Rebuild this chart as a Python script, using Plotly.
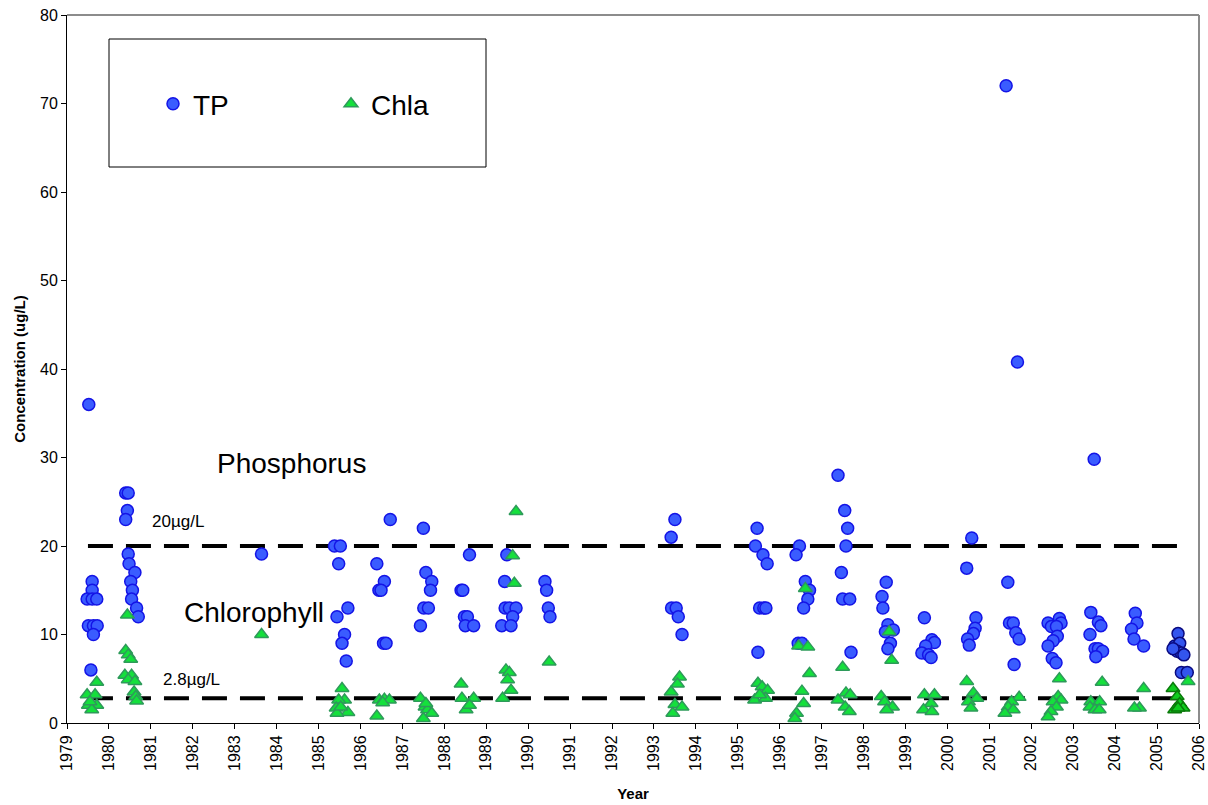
import plotly.graph_objects as go

# Total phosphorus samples (decimal year, ug/L)
tp_year = [1979.52, 1979.60, 1979.60, 1979.48, 1979.60, 1979.71, 1979.51, 1979.63, 1979.72, 1979.63, 1979.57,
           1980.40, 1980.46, 1980.44, 1980.40, 1980.46, 1980.48, 1980.62, 1980.52, 1980.56, 1980.54, 1980.66, 1980.70,
           1983.64,
           1985.38, 1985.52, 1985.48, 1985.70, 1985.44, 1985.62, 1985.56, 1985.66,
           1986.39, 1986.57, 1986.44, 1986.49, 1986.55, 1986.61, 1986.71,
           1987.50, 1987.56, 1987.70, 1987.67, 1987.51, 1987.62, 1987.43,
           1988.60, 1988.40, 1988.44, 1988.48, 1988.55, 1988.50, 1988.70,
           1989.49, 1989.44, 1989.45, 1989.55, 1989.71, 1989.63, 1989.37, 1989.59,
           1990.40, 1990.44, 1990.48, 1990.52,
           1993.50, 1993.41, 1993.42, 1993.53, 1993.58, 1993.67,
           1995.46, 1995.42, 1995.60, 1995.70, 1995.52, 1995.62, 1995.67, 1995.48,
           1996.47, 1996.39, 1996.61, 1996.71, 1996.67, 1996.57, 1996.44, 1996.53,
           1997.39, 1997.55, 1997.62, 1997.58, 1997.47, 1997.50, 1997.67, 1997.70,
           1998.54, 1998.44, 1998.46, 1998.58, 1998.71, 1998.52, 1998.64, 1998.58,
           1999.45, 1999.63, 1999.69, 1999.48, 1999.39, 1999.55, 1999.61,
           2000.58, 2000.46, 2000.68, 2000.66, 2000.62, 2000.48, 2000.52,
           2001.40, 2001.67, 2001.44, 2001.48, 2001.57, 2001.63, 2001.71, 2001.59,
           2002.67, 2002.40, 2002.71, 2002.48, 2002.60, 2002.62, 2002.52, 2002.40, 2002.50, 2002.59,
           2003.42, 2003.50, 2003.60, 2003.66, 2003.40, 2003.52, 2003.60, 2003.70, 2003.54,
           2004.48, 2004.52, 2004.39, 2004.45, 2004.68]
tp_value = [36.0, 16.0, 15.0, 14.0, 14.0, 14.0, 11.0, 11.0, 11.0, 10.0, 6.0,
            26.0, 26.0, 24.0, 23.0, 19.1, 18.0, 17.0, 16.0, 15.0, 14.0, 13.0, 12.0,
            19.1,
            20.0, 20.0, 18.0, 13.0, 12.0, 10.0, 9.0, 7.0,
            18.0, 16.0, 15.0, 15.0, 9.0, 9.0, 23.0,
            22.0, 17.0, 16.0, 15.0, 13.0, 13.0, 11.0,
            19.0, 15.0, 15.0, 12.0, 12.0, 11.0, 11.0,
            19.0, 16.0, 13.0, 13.0, 13.0, 12.0, 11.0, 11.0,
            16.0, 15.0, 13.0, 12.0,
            23.0, 21.0, 13.0, 13.0, 12.0, 10.0,
            22.0, 20.0, 19.0, 18.0, 13.0, 13.0, 13.0, 8.0,
            20.0, 19.0, 16.0, 15.0, 14.0, 13.0, 9.0, 9.0,
            28.0, 24.0, 22.0, 20.0, 17.0, 14.0, 14.0, 8.0,
            15.9, 14.3, 13.0, 11.1, 10.5, 10.3, 9.0, 8.4,
            11.9, 9.4, 9.1, 8.7, 7.9, 7.7, 7.4,
            20.9, 17.5, 11.9, 10.7, 10.1, 9.5, 8.8,
            72.0, 40.8, 15.9, 11.3, 11.3, 10.2, 9.5, 6.6,
            11.8, 11.3, 11.3, 10.9, 10.9, 9.8, 9.3, 8.7, 7.3, 6.8,
            12.5, 29.8, 11.4, 11.0, 10.0, 8.4, 8.4, 8.1, 7.5,
            12.4, 11.3, 10.6, 9.5, 8.7]

# Most recent season of phosphorus samples
tp05_year = [2005.50, 2005.42, 2005.54, 2005.48, 2005.58, 2005.64, 2005.58, 2005.72, 2005.38]
tp05_value = [10.1, 8.7, 9.0, 8.1, 7.9, 7.7, 5.7, 5.7, 8.4]

# Chlorophyll a samples (decimal year, ug/L)
chla_year = [1979.71, 1979.48, 1979.67, 1979.71, 1979.51, 1979.59, 1979.55,
             1980.44, 1980.40, 1980.46, 1980.52, 1980.38, 1980.54, 1980.46, 1980.62, 1980.60, 1980.64, 1980.66,
             1983.64,
             1985.56, 1985.62, 1985.48, 1985.42, 1985.70, 1985.44, 1985.53,
             1986.45, 1986.57, 1986.69, 1986.39, 1986.53,
             1987.43, 1987.54, 1987.60, 1987.70, 1987.50, 1987.56,
             1988.40, 1988.42, 1988.70, 1988.52, 1988.60,
             1989.71, 1989.63, 1989.67, 1989.47, 1989.55, 1989.51, 1989.59, 1989.39,
             1990.50,
             1993.61, 1993.56, 1993.41, 1993.50, 1993.67, 1993.45,
             1995.48, 1995.58, 1995.71, 1995.40, 1995.66, 1995.52,
             1996.61, 1996.45, 1996.67, 1996.71, 1996.53, 1996.57, 1996.40, 1996.36,
             1997.50, 1997.58, 1997.68, 1997.39, 1997.56, 1997.66,
             1998.61, 1998.67, 1998.42, 1998.50, 1998.69, 1998.55,
             1999.45, 1999.69, 1999.61, 1999.43, 1999.63,
             2000.46, 2000.62, 2000.70, 2000.50, 2000.56,
             2001.71, 2001.53, 2001.45, 2001.57, 2001.37,
             2002.67, 2002.64, 2002.71, 2002.52, 2002.60, 2002.47, 2002.40,
             2003.69, 2003.42, 2003.63, 2003.40, 2003.52, 2003.62,
             2004.68, 2004.58, 2004.46,
             2005.74]
chla_value = [4.6, 3.2, 3.2, 2.0, 2.0, 1.5, 2.4,
              12.2, 8.2, 7.7, 7.2, 5.4, 5.4, 4.9, 4.7, 3.5, 3.0, 2.5,
              10.0,
              3.9, 2.6, 2.6, 1.7, 1.2, 1.1, 1.8,
              2.6, 2.7, 2.6, 0.8, 2.3,
              2.8, 1.8, 1.5, 1.1, 0.5, 2.2,
              4.4, 2.8, 2.8, 1.5, 2.0,
              23.9, 18.9, 15.8, 6.0, 5.7, 4.9, 3.7, 2.8,
              6.9,
              5.2, 4.4, 3.5, 2.1, 1.8, 1.1,
              4.5, 4.1, 3.7, 2.6, 2.8, 3.2,
              15.2, 8.7, 8.6, 5.6, 3.6, 2.2, 1.1, 0.5,
              6.3, 3.4, 3.2, 2.6, 1.8, 1.3,
              10.3, 7.1, 3.0, 2.4, 1.8, 1.5,
              3.2, 3.2, 2.2, 1.5, 1.3,
              4.7, 3.4, 2.8, 2.4, 1.7,
              2.9, 2.4, 1.8, 1.5, 1.1,
              5.0, 3.0, 2.6, 2.4, 1.8, 1.3, 0.7,
              4.6, 2.4, 2.4, 1.8, 1.5, 1.5,
              3.9, 1.7, 1.7,
              4.7]

chla05_year = [2005.38, 2005.48, 2005.54, 2005.62, 2005.42, 2005.50]
chla05_value = [3.9, 3.0, 2.2, 1.7, 1.5, 1.7]

# Guideline levels and the span they are drawn across
guide_levels = [20.0, 2.8]
guide_span = [1979.5, 2005.5]
guide_labels = ["20µg/L", "2.8µg/L"]

year_ticks = list(range(1979, 2007))

FONT = "Liberation Sans, Arial, sans-serif"
TP_FILL, TP_EDGE = "#3a5cff", "#1414e6"
CH_FILL, CH_EDGE = "#14e03c", "#2e9a5a"

# plot-area geometry in pixels
L, R, T, B = 67, 9, 15, 82
PW, PH = 1208 - L - R, 805 - T - B

fig = go.Figure()

for lvl in guide_levels:
    fig.add_trace(go.Scatter(x=guide_span, y=[lvl, lvl], mode="lines",
                             line=dict(color="black", width=4, dash="25px,13px"),
                             showlegend=False, hoverinfo="skip"))

fig.add_trace(go.Scatter(x=tp_year, y=tp_value, mode="markers", name="TP",
                         marker=dict(symbol="circle", size=12, color=TP_FILL,
                                     line=dict(color=TP_EDGE, width=1.5))))
fig.add_trace(go.Scatter(x=tp05_year, y=tp05_value, mode="markers", name="TP 2005",
                         showlegend=False,
                         marker=dict(symbol="circle", size=12, color="#3355ee",
                                     line=dict(color="#0a0a80", width=1.5))))
fig.add_trace(go.Scatter(x=chla_year, y=chla_value, mode="markers", name="Chla",
                         marker=dict(symbol="triangle-up", size=12, color=CH_FILL,
                                     line=dict(color=CH_EDGE, width=1.5))))
fig.add_trace(go.Scatter(x=chla05_year, y=chla05_value, mode="markers", name="Chla 2005",
                         showlegend=False,
                         marker=dict(symbol="triangle-up", size=12, color="#0fcc1e",
                                     line=dict(color="#0a7a0a", width=1.5))))

annotations = [
    dict(x=1984.36, y=29.3, text="Phosphorus", font=dict(size=28)),
    dict(x=1983.45, y=12.5, text="Chlorophyll", font=dict(size=28)),
    dict(x=1980.98, y=22.8, text=guide_labels[0], font=dict(size=17), xanchor="left"),
    dict(x=1981.25, y=4.9, text=guide_labels[1], font=dict(size=17), xanchor="left"),
]
for a in annotations:
    a.update(xref="x", yref="y", showarrow=False)
    a.setdefault("xanchor", "center")
    a["font"].update(family=FONT, color="black")

fig.update_layout(
    width=1208, height=805,
    margin=dict(l=L, r=R, t=T, b=B),
    paper_bgcolor="white", plot_bgcolor="white",
    font=dict(family=FONT, color="black"),
    annotations=annotations,
    legend=dict(orientation="h", x=(153 - L) / PW, y=1 - (104 - T) / PH,
                xanchor="left", yanchor="middle",
                entrywidth=133, entrywidthmode="pixels",
                font=dict(size=28, family=FONT), bgcolor="rgba(0,0,0,0)",
                itemsizing="trace"),
    shapes=[
        # legend frame
        dict(type="rect", xref="paper", yref="paper",
             x0=(109 - L) / PW, x1=(486 - L) / PW,
             y0=1 - (167 - T) / PH, y1=1 - (39 - T) / PH,
             line=dict(color="black", width=1), fillcolor="rgba(0,0,0,0)", layer="below"),
        # top and right frame of the plot area
        dict(type="line", xref="paper", yref="paper", x0=0, x1=1, y0=1, y1=1,
             line=dict(color="#8c8c8c", width=2)),
        dict(type="line", xref="paper", yref="paper", x0=1, x1=1, y0=0, y1=1,
             line=dict(color="#8c8c8c", width=2)),
    ],
)

fig.update_xaxes(range=[1979, 2006], tickvals=year_ticks, ticktext=[str(y) for y in year_ticks],
                 tickangle=-90, tickfont=dict(size=16, family=FONT), ticklabeloverflow="allow",
                 automargin=False,
                 ticks="outside", ticklen=5, tickcolor="black",
                 showline=True, linecolor="black", linewidth=1, showgrid=False, zeroline=False,
                 title=dict(text="<b>Year</b>", font=dict(size=15, family=FONT), standoff=18))
fig.update_yaxes(range=[0, 80], dtick=10, tickfont=dict(size=16, family=FONT),
                 automargin=False,
                 ticks="outside", ticklen=5, tickcolor="black",
                 showline=True, linecolor="black", linewidth=1, showgrid=False, zeroline=False,
                 title=dict(text="<b>Concentration (ug/L)</b>", font=dict(size=15, family=FONT),
                            standoff=10))

fig.write_html("out.html")
